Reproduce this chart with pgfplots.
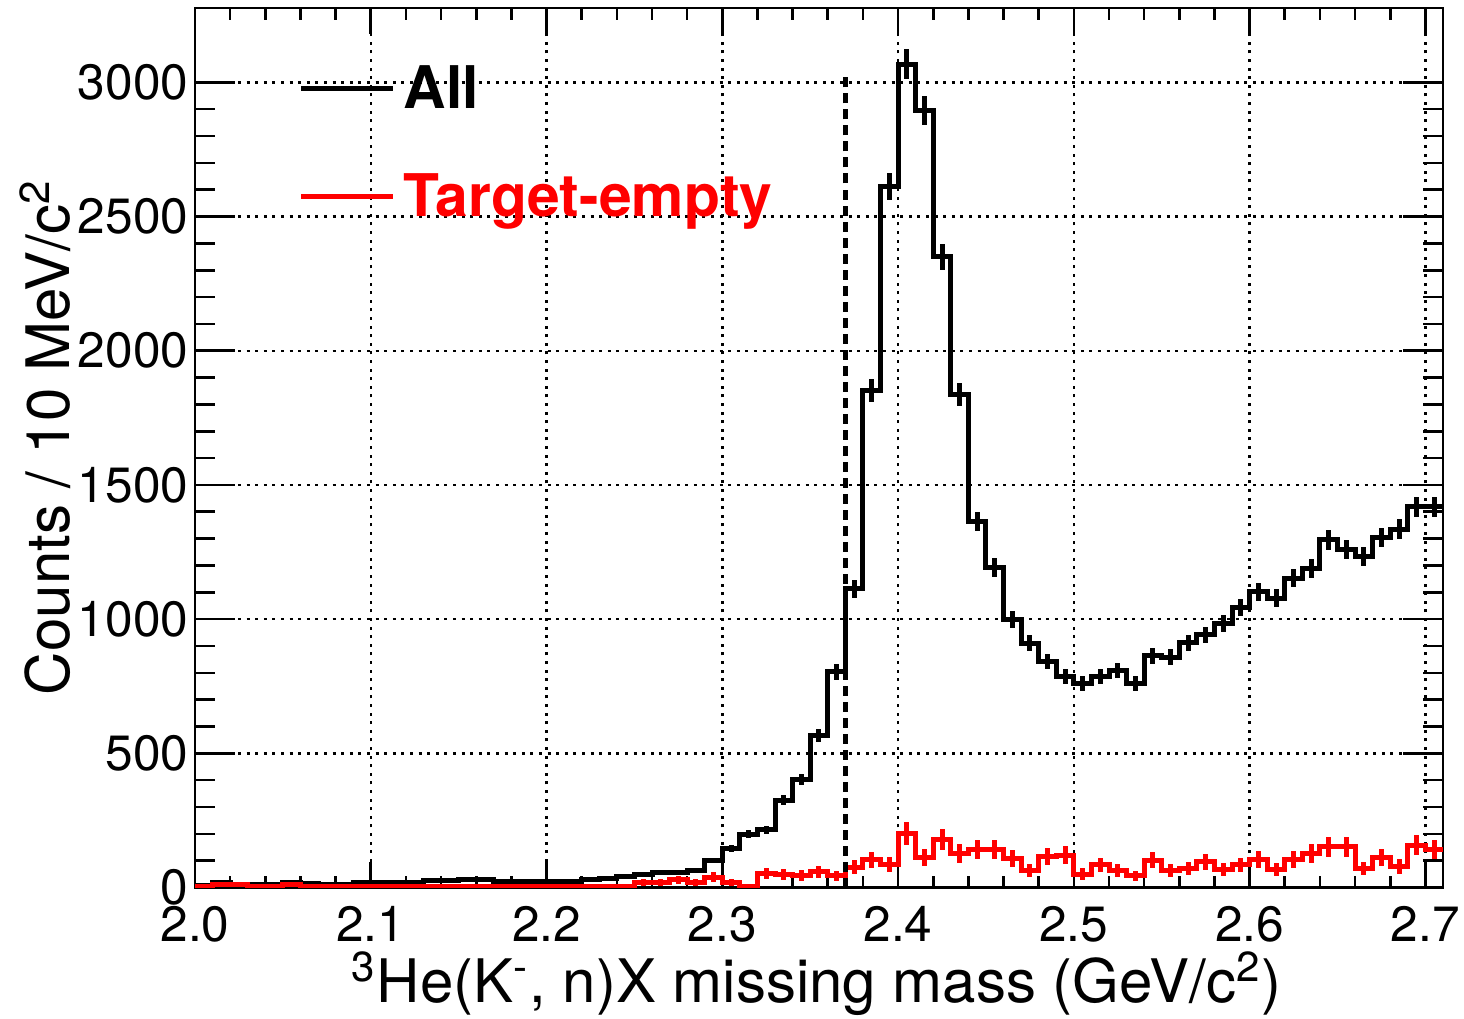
\documentclass[border=0pt]{standalone}
\usepackage{fontspec}
\setmainfont{TeX Gyre Heros}
\usepackage{pgfplots}
\usepackage{pgfplotstable}
\pgfplotsset{compat=1.18}
\definecolor{rootred}{RGB}{255,0,0}

\pgfplotstableread{
x all empty w
2.000 8 3 0
2.005 8 3 1
2.015 20 12 1
2.025 12 10 1
2.035 12 3 1
2.045 12 3 1
2.055 17 12 1
2.065 15 4 1
2.075 12 2 1
2.085 12 2 1
2.095 18 2 1
2.105 20 3 1
2.115 20 2 1
2.125 20 2 1
2.135 25 2 1
2.145 25 3 1
2.155 30 2 1
2.165 30 2 1
2.175 24 2 1
2.185 24 2 1
2.195 21 2 1
2.205 21 2 1
2.215 22 3 1
2.225 28 3 1
2.235 33 3 1
2.245 40 4 1
2.255 47 18 1
2.265 55 18 1
2.275 55 28 1
2.285 65 18 1
2.295 100 38 1
2.305 145 18 1
2.315 199 3 1
2.325 215 52 1
2.335 325 49 1
2.345 403 45 1
2.355 567 58 1
2.365 803 43 1
2.375 1113 75 1
2.385 1852 103 1
2.395 2612 86 1
2.405 3068 203 1
2.415 2895 113 1
2.425 2351 178 1
2.435 1837 127 1
2.445 1364 140 1
2.455 1193 140 1
2.465 1000 109 1
2.475 910 65 1
2.485 842 115 1
2.495 786 121 1
2.505 761 50 1
2.515 786 84 1
2.525 808 63 1
2.535 761 43 1
2.545 863 102 1
2.555 858 65 1
2.565 912 71 1
2.575 941 96 1
2.585 984 68 1
2.595 1044 84 1
2.605 1102 105 1
2.615 1078 68 1
2.625 1152 105 1
2.635 1189 127 1
2.645 1295 152 1
2.655 1258 152 1
2.665 1233 71 1
2.675 1305 112 1
2.685 1335 78 1
2.695 1419 158 1
2.705 1419 140 1
2.710 1419 140 0
}\histdata

\begin{document}
\begin{tikzpicture}
\begin{axis}[
  name=ax, at={(0,0)}, anchor=south west,
  scale only axis, width=312pt, height=219.875pt,
  xmin=2.0, xmax=2.71, ymin=0, ymax=3277,
  xtick={2.0,2.1,2.2,2.3,2.4,2.5,2.6,2.7},
  ytick={0,500,1000,1500,2000,2500,3000},
  minor x tick num=4, minor y tick num=4,
  tick align=inside, tick pos=both,
  major tick length=10pt, minor tick length=5pt,
  xtick style={/pgfplots/major tick length=6.5pt, /pgfplots/minor tick length=3pt},
  every tick/.style={black, line width=0.65pt},
  axis line style={black, line width=0.7pt},
  grid=major,
  major grid style={black, line width=0.6pt, dash pattern=on 0.75pt off 1.4pt},
  /pgf/number format/assume math mode=true,
  ticklabel style={font=\fontsize{12.4}{14}\selectfont},
  xticklabel style={/pgf/number format/.cd, fixed, fixed zerofill, precision=1, /tikz/.cd, inner sep=4.4pt},
  yticklabel style={/pgf/number format/.cd, 1000 sep={}, /tikz/.cd, inner sep=1.5pt},
  xlabel={\textsuperscript{3}He(K\textsuperscript{-}, n)X missing mass (GeV/c\textsuperscript{2})},
  ylabel={Counts / 10 MeV/c\textsuperscript{2}},
  label style={font=\fontsize{15}{18}\selectfont},
  xlabel style={at={(axis description cs:0.498,-0.131)}, anchor=base},
  ylabel style={at={(axis description cs:-0.12,0.512)}, anchor=center},
  legend style={draw=none, fill=none, at={(axis description cs:0.0825,0.944)}, anchor=north west,
    font=\fontsize{14.7}{17}\selectfont\bfseries, row sep=10.75pt, inner sep=0pt,
    cells={anchor=west}},
  legend image code/.code={\draw[#1] (0pt,0.5pt) -- (23pt,0.5pt);},
]
\addplot[black, line width=1.25pt, const plot mark mid, mark=none, forget plot,
  error bars/.cd, y dir=both, y explicit, error bar style={line width=1.25pt, black}, error mark=none]
  table[x=x, y=all, y error expr={sqrt(\thisrow{all})*\thisrow{w}}] {\histdata};
\addplot[rootred, line width=1.25pt, const plot mark mid, mark=none, forget plot,
  error bars/.cd, y dir=both, y explicit, error bar style={line width=1.25pt, rootred}, error mark=none]
  table[x=x, y=empty, y error expr={3*sqrt(\thisrow{empty})*\thisrow{w}}] {\histdata};
\addplot[black, line width=1.25pt, dash pattern=on 2.5pt off 1.5pt, forget plot]
  coordinates {(2.37,0) (2.37,3040)};
\addlegendimage{black, line width=1.3pt}
\addlegendentry{All}
\addlegendimage{rootred, line width=1.3pt}
\addlegendentry{\textcolor{rootred}{Target-empty}}
\end{axis}
\pgfresetboundingbox
\path (ax.south west) ++(-48.75pt,-32.625pt) rectangle ++(366pt,254.5pt);
\end{tikzpicture}
\end{document}
